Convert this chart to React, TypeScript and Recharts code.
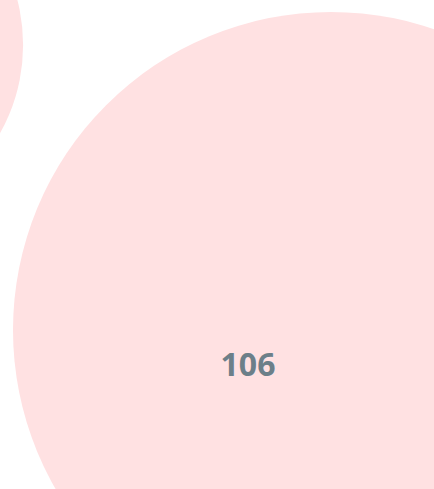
import React from 'react';
import { ScatterChart, Scatter, XAxis, YAxis, ZAxis } from 'recharts';

// bubble positions (in chart units) and values
const bubbleNames = ['A', 'B'];
const bubbleX = [-157, 331];
const bubbleY = [45, 330];
const bubbleValues = [34, 106];
const labelShown = [false, true];

const data = bubbleNames.map((name, i) => ({
    name,
    x: bubbleX[i],
    y: bubbleY[i],
    value: bubbleValues[i],
    showLabel: labelShown[i],
}));

const W = 434;
const H = 489;
const MAX_R = 318;

function Bubble(props: any) {
    const { cx, cy, width, payload } = props;
    const r = width / 2;
    return (
        <g>
            <circle cx={cx} cy={cy} r={r} fill="#ffe1e2" />
            {payload.showLabel && (
                <text
                    x={cx}
                    y={cy}
                    dx={-83}
                    dy={33}
                    textAnchor="middle"
                    dominantBaseline="central"
                    fontFamily="'Open Sans', sans-serif"
                    fontWeight={700}
                    fontSize={32}
                    fill="#6c7f89"
                >
                    {payload.value}
                </text>
            )}
        </g>
    );
}

export default function App() {
    return (
        <div style={{ position: 'absolute', left: 0, top: 0, width: W, height: H, overflow: 'hidden', background: '#fff' }}>
            <ScatterChart width={W} height={H} margin={{ top: 0, right: 0, bottom: 0, left: 0 }}>
                <XAxis type="number" dataKey="x" domain={[0, W]} hide allowDataOverflow />
                <YAxis type="number" dataKey="y" domain={[0, H]} reversed hide allowDataOverflow />
                <ZAxis type="number" dataKey="value" domain={[0, 106]} range={[0, Math.PI * MAX_R * MAX_R]} />
                <Scatter data={data} shape={<Bubble />} isAnimationActive={false} />
            </ScatterChart>
        </div>
    );
}
